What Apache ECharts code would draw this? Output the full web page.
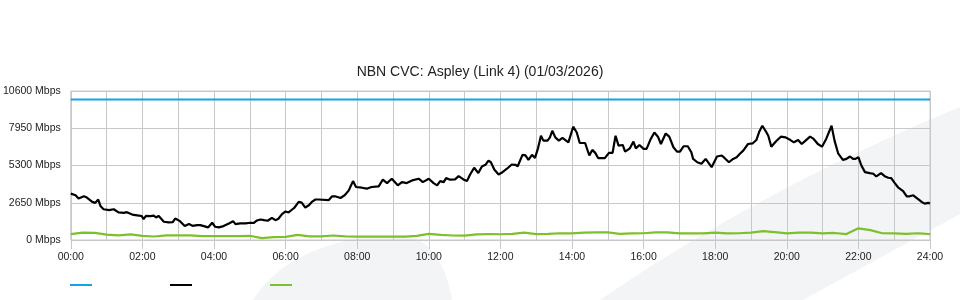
<!DOCTYPE html>
<html><head><meta charset="utf-8">
<script src="https://cdn.jsdelivr.net/npm/echarts@6/dist/echarts.min.js"></script>
<style>html,body{margin:0;padding:0;background:#fff}#c{width:960px;height:300px}</style>
</head><body><div id="c"></div><script>
const titleText = 'NBN CVC: Aspley (Link 4) (01/03/2026)';
const seriesNames = ['Capacity', 'Inbound', 'Outbound'];
const yMax = 10600;
const yStep = 2650;
const xMaxMinutes = 1440;
const xLabelStepMinutes = 120;

// capacity (blue)
const capacityT = [0, 1440];
const capacityV = [10000, 10000];

// inbound (black), minutes since 00:00
const inboundT = [0,8,13,22,27,36,41,46,50,55,64,72,80,89,94,103,114,119,122,126,133,139,143,147,156,164,171,175,183,191,198,204,
212,217,223,230,237,242,248,256,265,272,276,284,293,301,307,312,318,324,330,337,343,348,354,360,365,371,375,382,387,393,399,404,410,415,
432,438,443,452,459,466,469,473,478,488,496,504,507,516,523,530,538,548,555,563,572,583,590,600,608,614,619,625,
629,636,644,650,658,664,669,676,679,683,689,695,700,704,710,717,722,731,739,745,749,757,762,767,773,778,783,788,792,799,803,807,812,818,824,834,
842,848,853,862,869,874,879,884,895,902,908,913,918,925,929,937,943,947,953,960,965,972,978,984,989,997,1003,1010,1016,1021,1027,1034,1040,1043,
1050,1057,1064,1074,1083,1091,1096,1103,1110,1116,1121,1127,1135,1143,1149,1154,1159,1165,1169,1174,1182,1190,1198,1206,1212,1219,1225,1230,1239,1245,1252,
1259,1266,1275,1280,1286,1294,1300,1306,1311,1315,1320,1325,1331,1339,1345,1350,1358,1364,1370,1375,1381,1387,1395,1401,1406,1412,1419,1426,1431,1437,1440];
const inboundV = [3300,3180,2950,3110,3020,2710,2640,2880,2400,2190,2120,2190,1960,1930,1980,1810,1740,1700,1480,1720,1700,1740,1600,1720,1300,1250,1270,1530,1340,990,1130,1010,
1060,1060,990,895,1225,940,895,990,1180,1340,1130,1180,1180,1225,1225,1390,1460,1410,1370,1580,1410,1510,1840,2030,1960,2170,2310,2710,2660,2310,2470,2710,2880,2880,
2830,3110,3110,2990,3180,3530,3820,4190,3770,3720,3650,3770,3650,3820,4290,4050,4360,3890,4120,4050,4240,4360,4120,4360,4050,3890,4190,4120,
4400,4290,4310,4540,4310,4190,4640,5140,5140,4760,5230,5350,5650,5530,5000,4660,4780,5070,5370,5350,5250,6060,6020,5700,6060,5840,6520,7420,7070,7070,7300,7770,7300,7070,7260,6950,
8060,7650,6900,6900,6010,6410,6200,5820,5820,6200,6200,7420,6710,6760,6290,6520,7000,6520,6760,6480,6480,7190,7650,7350,6830,7580,7350,6600,6290,6290,6670,6670,6240,5770,
5530,5420,5770,5180,5940,6010,5820,5530,5770,5890,6120,6360,6830,6880,7110,7720,8130,7720,7420,6640,7020,7350,7300,7110,6950,7110,6830,7020,7350,7190,6830,
6640,7190,8130,7070,6170,5700,5770,5940,5770,5770,5890,5300,4830,4760,4710,4520,4760,4540,4430,4400,4050,3720,3480,3110,3110,3180,2950,2710,2590,2640,2590];

// outbound (green), every 20 minutes
const outboundT = [0,20,40,60,80,100,120,140,160,180,200,220,240,260,280,300,320,340,360,380,400,420,440,460,480,500,520,540,560,580,600,620,640,660,680,700,720,740,760,780,800,820,840,860,880,900,920,940,960,980,1000,1020,1040,1060,1080,1100,1120,1140,1160,1180,1200,1220,1240,1260,1280,1300,1320,1340,1360,1380,1400,1420,1440];
const outboundV = [420,520,510,380,330,400,300,250,330,330,330,280,280,280,270,300,130,210,220,370,260,260,320,260,235,235,235,235,240,290,440,360,320,310,400,420,410,430,520,420,440,480,470,530,540,540,440,470,480,540,540,470,480,470,530,470,480,520,630,560,470,530,530,470,500,420,830,700,480,470,440,480,420];

const zip = (t, v) => t.map((x, i) => [x, v[i]]);
const font = "'Liberation Sans', Arial, sans-serif";
const fmtTime = m => String(Math.floor(m / 60)).padStart(2, '0') + ':' + String(m % 60).padStart(2, '0');
const colors = ['#14a3e6', '#000000', '#7cc02b'];
const wm = '#f3f4f6';

// watermark shapes (background decoration)
function quad(p0, p1, p2, n) { const o = []; for (let i = 0; i <= n; i++) { const t = i / n, a = (1 - t) * (1 - t), b = 2 * (1 - t) * t, c = t * t; o.push([a * p0[0] + b * p1[0] + c * p2[0], a * p0[1] + b * p1[1] + c * p2[1]]); } return o; }
function cubic(p0, p1, p2, p3, n) { const o = []; for (let i = 0; i <= n; i++) { const t = i / n, u = 1 - t; o.push([u*u*u*p0[0] + 3*u*u*t*p1[0] + 3*u*t*t*p2[0] + t*t*t*p3[0], u*u*u*p0[1] + 3*u*u*t*p1[1] + 3*u*t*t*p2[1] + t*t*t*p3[1]]); } return o; }
const band = quad([600, 300], [760, 190], [960, 107], 30).concat([[960, 214], [803, 300]]);
const blob = cubic([253, 300], [280, 258], [330, 237], [397, 235], 20).concat(cubic([397, 235], [425, 236], [444, 255], [452, 300], 20).slice(1));

const chart = echarts.init(document.getElementById('c'), null, {renderer: 'canvas'});
chart.setOption({
  animation: false,
  backgroundColor: '#fff',
  textStyle: {fontFamily: font},
  graphic: [
    {type: 'polygon', z: -10, silent: true, shape: {points: band}, style: {fill: wm}},
    {type: 'polygon', z: -10, silent: true, shape: {points: blob}, style: {fill: wm}}
  ],
  title: {text: titleText, left: 'center', top: 60, textStyle: {fontFamily: font, fontSize: 14, fontWeight: 'normal', color: '#222'}},
  legend: seriesNames.map((n, i) => ({
    data: [n], left: 70 + i * 100, top: 284, icon: 'rect', itemWidth: 22, itemHeight: 2, formatter: () => '',
    selectedMode: false, padding: 0
  })),
  grid: {left: 70, right: 30, top: 91, bottom: 60, show: true, borderColor: '#c8c8c8', borderWidth: 1, backgroundColor: 'transparent'},
  xAxis: {
    type: 'value', min: 0, max: xMaxMinutes, interval: xLabelStepMinutes,
    axisLine: {show: false},
    axisTick: {show: true, length: 9, lineStyle: {color: '#c8c8c8'}},
    minorTick: {show: false, splitNumber: 2},
    minorSplitLine: {show: true, lineStyle: {color: '#c8c8c8', width: 1}},
    splitLine: {show: true, lineStyle: {color: '#c8c8c8', width: 1}},
    axisLabel: {formatter: v => fmtTime(v), color: '#222', fontSize: 10.5, fontFamily: font, margin: 12}
  },
  yAxis: {
    type: 'value', min: 0, max: yMax, interval: yStep,
    axisLine: {show: false}, axisTick: {show: false},
    splitLine: {show: true, lineStyle: {color: '#c8c8c8', width: 1}},
    axisLabel: {formatter: v => v + ' Mbps', color: '#222', fontSize: 10.5, fontFamily: font, margin: 10, padding: [0, 0, 4, 0]}
  },
  series: [
    {name: seriesNames[0], type: 'line', data: zip(capacityT, capacityV), symbol: 'none', lineStyle: {color: colors[0], width: 2}, itemStyle: {color: colors[0]}},
    {name: seriesNames[1], type: 'line', data: zip(inboundT, inboundV), symbol: 'none', lineStyle: {color: colors[1], width: 2.2}, itemStyle: {color: colors[1]}},
    {name: seriesNames[2], type: 'line', data: zip(outboundT, outboundV), symbol: 'none', lineStyle: {color: colors[2], width: 2.2}, itemStyle: {color: colors[2]}}
  ]
});
</script></body></html>
